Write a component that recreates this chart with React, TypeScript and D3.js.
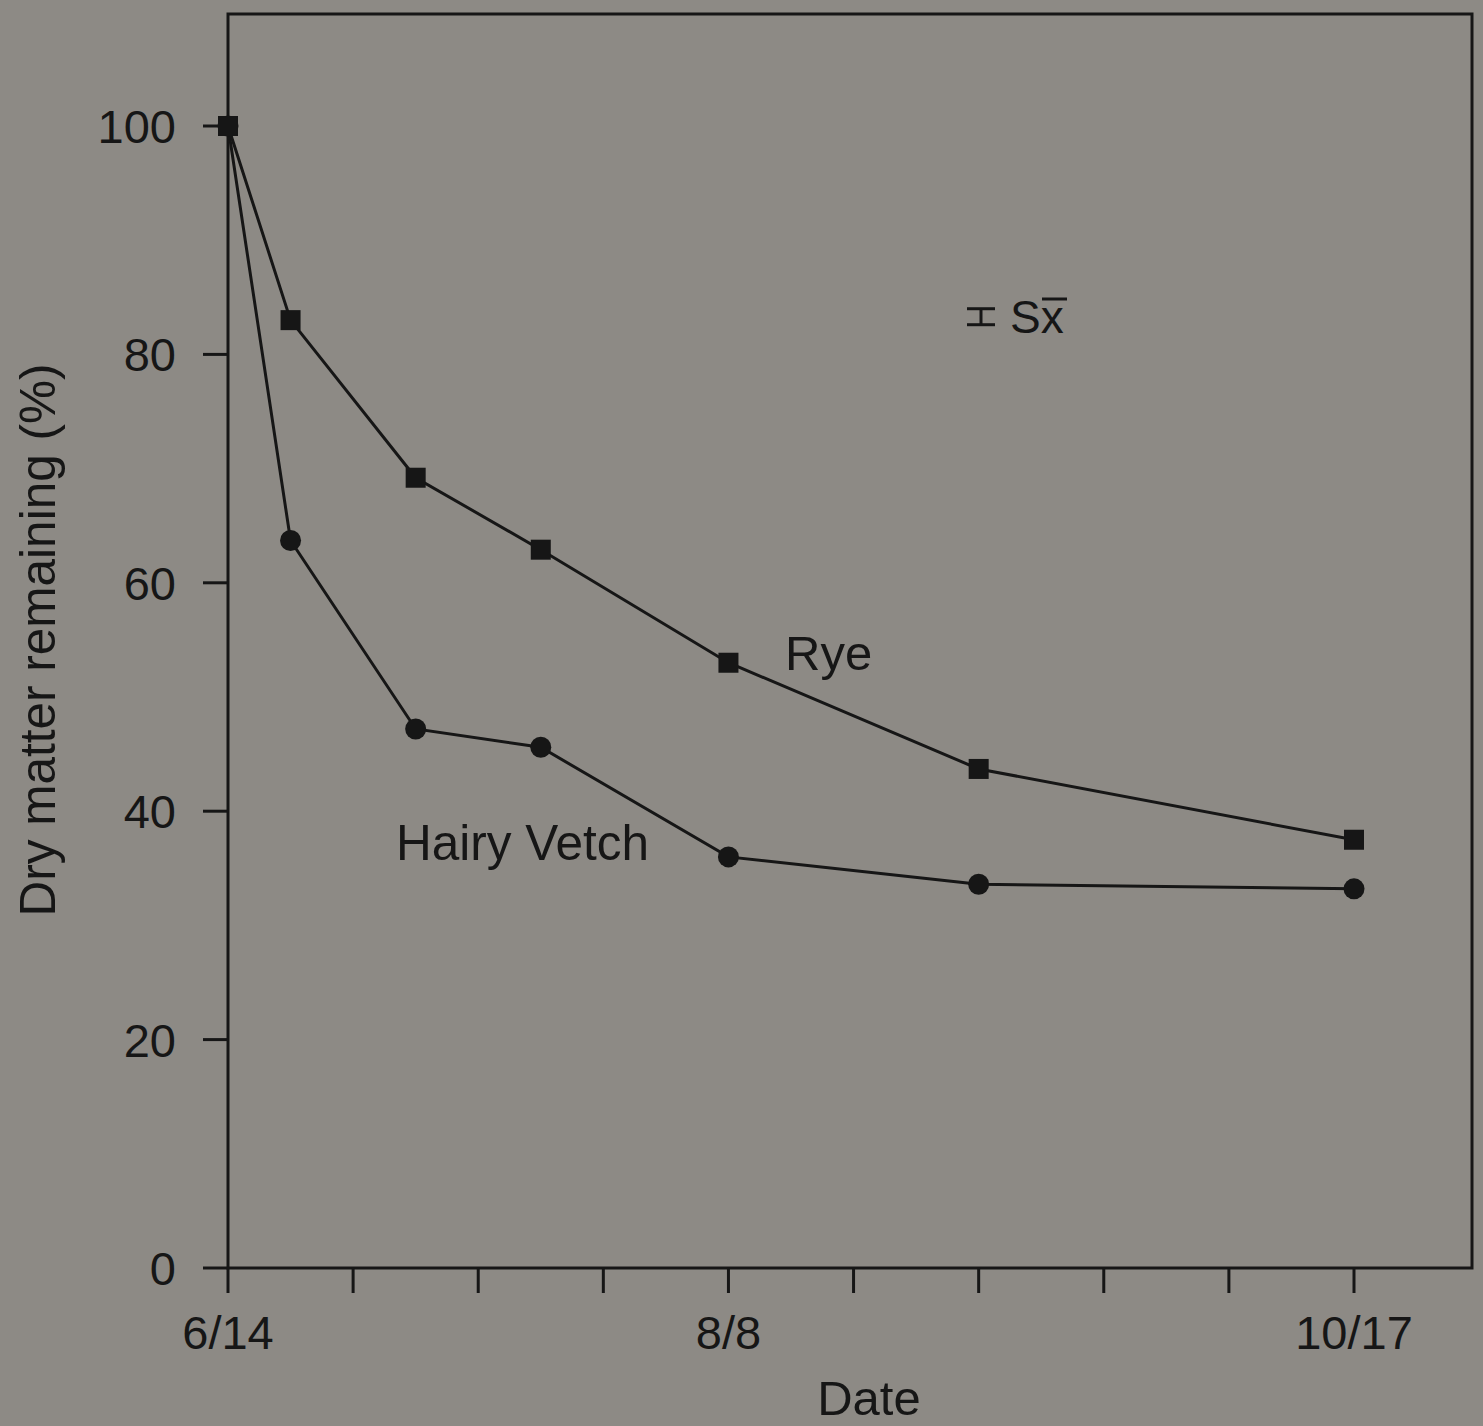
import React from "react";
import * as d3 from "d3";

// Sampling positions measured in tick intervals from 6/14
const sampleSteps = [0, 0.5, 1.5, 2.5, 4, 6, 9];
const ryeValues = [100, 83.0, 69.2, 62.9, 53.0, 43.7, 37.5];
const vetchValues = [100, 63.7, 47.2, 45.6, 36.0, 33.6, 33.2];
const yTicks = [0, 20, 40, 60, 80, 100];
const xTickSteps = [0, 1, 2, 3, 4, 5, 6, 7, 8, 9];
const xTickLabels: Record<number, string> = { 0: "6/14", 4: "8/8", 9: "10/17" };
const seValue = 1.4; // standard error bar size (%)

const W = 1483;
const H = 1426;
const left = 228;
const right = 1472;
const top = 14;
const bottom = 1268;

const font = "'Liberation Sans', Arial, Helvetica, sans-serif";
const ink = "#161616";
const bg = "#8d8a85";

export default function App() {
  const x = d3.scaleLinear().domain([0, 9]).range([left, 1354]);
  const y = d3.scaleLinear().domain([0, 100]).range([bottom, 126]);

  const line = d3
    .line<number>()
    .x((_, i) => x(sampleSteps[i]))
    .y((d) => y(d));

  const sx = 981;
  const sy = y(83.3);
  const seHalf = (y(0) - y(seValue)) / 2;

  return (
    <svg
      width={W}
      height={H}
      style={{ position: "absolute", top: 0, left: 0, background: bg }}
      fontFamily={font}
    >
      <rect x={0} y={0} width={W} height={H} fill={bg} />
      {/* frame */}
      <rect
        x={left}
        y={top}
        width={right - left}
        height={bottom - top}
        fill="none"
        stroke={ink}
        strokeWidth={3}
      />
      {/* y ticks */}
      {yTicks.map((t) => (
        <g key={`y${t}`}>
          <line x1={left - 25} x2={left} y1={y(t)} y2={y(t)} stroke={ink} strokeWidth={3} />
          <text
            x={176}
            y={y(t)}
            dy="0.36em"
            textAnchor="end"
            fontSize={47}
            fill={ink}
          >
            {t}
          </text>
        </g>
      ))}
      {/* x ticks */}
      {xTickSteps.map((t) => (
        <g key={`x${t}`}>
          <line x1={x(t)} x2={x(t)} y1={bottom} y2={bottom + 25} stroke={ink} strokeWidth={3} />
          {xTickLabels[t] && (
            <text x={x(t)} y={1349} textAnchor="middle" fontSize={47} fill={ink}>
              {xTickLabels[t]}
            </text>
          )}
        </g>
      ))}
      <text x={869} y={1415} textAnchor="middle" fontSize={49} fill={ink}>
        Date
      </text>
      <text
        transform={`translate(55,640) rotate(-90)`}
        textAnchor="middle"
        fontSize={49.5}
        fill={ink}
      >
        Dry matter remaining (%)
      </text>

      {/* series */}
      <path d={line(vetchValues) ?? ""} fill="none" stroke={ink} strokeWidth={3} />
      <path d={line(ryeValues) ?? ""} fill="none" stroke={ink} strokeWidth={3} />
      {vetchValues.map((v, i) => (
        <circle key={`v${i}`} cx={x(sampleSteps[i])} cy={y(v)} r={10.5} fill={ink} />
      ))}
      {ryeValues.map((v, i) => (
        <rect
          key={`r${i}`}
          x={x(sampleSteps[i]) - 10}
          y={y(v) - 10}
          width={20}
          height={20}
          fill={ink}
        />
      ))}

      <text x={785} y={670} fontSize={49} fill={ink}>
        Rye
      </text>
      <text x={396} y={860} fontSize={49.5} fill={ink}>
        Hairy Vetch
      </text>

      {/* standard error key */}
      <g stroke={ink} strokeWidth={3}>
        <line x1={sx} x2={sx} y1={sy - seHalf} y2={sy + seHalf} />
        <line x1={sx - 14} x2={sx + 14} y1={sy - seHalf} y2={sy - seHalf} />
        <line x1={sx - 14} x2={sx + 14} y1={sy + seHalf} y2={sy + seHalf} />
      </g>
      <text x={1010} y={333} fontSize={46} fill={ink}>
        Sx
      </text>
      <line x1={1042} x2={1067} y1={299} y2={299} stroke={ink} strokeWidth={3} />
    </svg>
  );
}
